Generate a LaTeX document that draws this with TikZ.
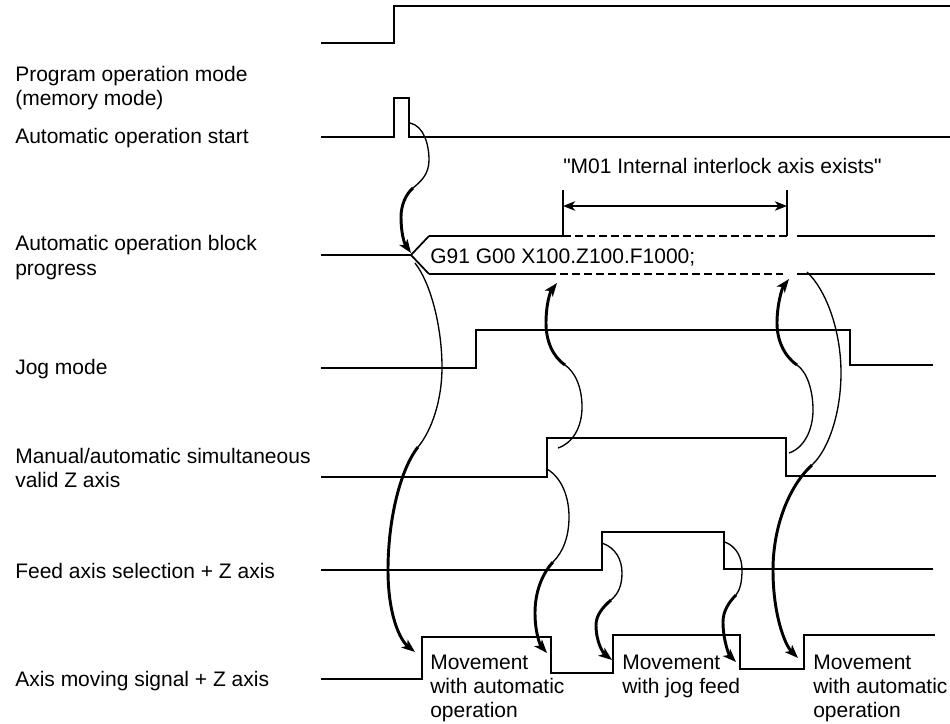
\documentclass[tikz,border=0pt]{standalone}
\usepackage{fontspec}
\newfontfamily\lsans{Liberation Sans}
\usetikzlibrary{arrows.meta}
\begin{document}
\begin{tikzpicture}[x=0.75pt,y=-0.75pt,
  lbl/.style={inner sep=0pt,anchor=base west,font=\lsans\fontsize{15.75pt}{18pt}\selectfont},
  sig/.style={line width=1.3pt,line join=miter},
  dsh/.style={line width=1.8pt,dash pattern=on 6pt off 3pt},
  thin/.style={line width=1pt},
  thick/.style={line width=2.2pt,-{Stealth[length=10pt,width=7.5pt,inset=2.5pt]}},
  dbl/.style={line width=2pt,{Stealth[length=9pt,width=7pt,inset=2.5pt]}-{Stealth[length=9pt,width=7pt,inset=2.5pt]}}]
\useasboundingbox (0,0) rectangle (950,724);

% left labels
\node[lbl] (l1a) at (15,82) {Program operation mode};
\node[lbl] (l1b) at (15,106) {(memory mode)};
\node[lbl] (l2) at (15,143) {Automatic operation start};
\node[lbl] (l3a) at (15,250) {Automatic operation block};
\node[lbl] (l3b) at (15,275) {progress};
\node[lbl] (l4) at (15,374) {Jog mode};
\node[lbl] (l5a) at (15,463) {Manual/automatic simultaneous};
\node[lbl] (l5b) at (15,487) {valid Z axis};
\node[lbl] (l6) at (15,578) {Feed axis selection + Z axis};
\node[lbl] (l7) at (15,686) {Axis moving signal + Z axis};

% signals
\draw[sig] (321,43) -- (394,43) -- (394,6) -- (950,6);
\draw[sig] (321,137) -- (394,137) -- (394,98) -- (409,98) -- (409,137) -- (950,137);
\draw[sig] (321,255) -- (411,255);
\draw[sig] (429,236) -- (411,255) -- (429,274);
\draw[sig] (429,236) -- (563,236);
\draw[sig] (429,274) -- (548,274);
\draw[dsh] (563,236) -- (787,236);
\draw[dsh] (548,274) -- (783,274);
\draw[sig] (797,236) -- (935,236);
\draw[sig] (797,274) -- (935,274);
\node[lbl] (blk) at (430,263) {G91 G00 X100.Z100.F1000;};

\draw[sig] (563,190) -- (563,236);
\draw[sig] (787,190) -- (787,236);
\coordinate (m1) at (563,206);
\coordinate (m2) at (787,206);
\draw[dbl] (m1) -- (m2);
\node[lbl] (m01) at (563,173) {"M01 Internal interlock axis exists"};

\draw[sig] (321,368) -- (476,368) -- (476,330) -- (850,330) -- (850,365) -- (933,365);
\draw[sig] (321,477) -- (547,477) -- (547,438) -- (786,438) -- (786,476) -- (936,476);
\draw[sig] (321,570) -- (602,570) -- (602,532) -- (724,532) -- (724,569) -- (933,569);
\draw[sig] (321,679) -- (422,679) -- (422,637) -- (551,637) -- (551,673) -- (613,673)
  -- (613,635) -- (740,635) -- (740,669) -- (804,669) -- (804,635) -- (935,635);

% bottom labels
\node[lbl] (ba1) at (430,669) {Movement};
\node[lbl] (ba2) at (430,693) {with automatic};
\node[lbl] (ba3) at (430,717) {operation};
\node[lbl] (bb1) at (622,669) {Movement};
\node[lbl] (bb2) at (622,693) {with jog feed};
\node[lbl] (bc1) at (813,669) {Movement};
\node[lbl] (bc2) at (813,693) {with automatic};
\node[lbl] (bc3) at (813,717) {operation};

% curve A
\coordinate (aS) at (410,123); \coordinate (aB) at (429,160); \coordinate (aT) at (413,188);
\coordinate (aC) at (401,217); \coordinate (aE) at (411,253);
\draw[thin] (aS) .. controls (424,126) and (429,145) .. (aB) .. controls (429,175) and (420,182) .. (aT);
\draw[thick] (aT) .. controls (406,194) and (401,205) .. (aC) .. controls (401,232) and (404,243) .. (aE);
% curve B
\coordinate (bS) at (415,263); \coordinate (bB) at (442,367); \coordinate (bT) at (418,447);
\coordinate (bC) at (388,570); \coordinate (bE) at (415,652);
\draw[thin] (bS) .. controls (432,285) and (442,330) .. (bB) .. controls (442,400) and (432,430) .. (bT);
\draw[thick] (bT) .. controls (400,470) and (388,520) .. (bC) .. controls (388,615) and (400,640) .. (bE);
% curve C
\coordinate (cS) at (547,469); \coordinate (cB) at (569,517); \coordinate (cT) at (553,562);
\coordinate (cC) at (535,613); \coordinate (cE) at (547,653);
\draw[thin] (cS) .. controls (562,478) and (569,497) .. (cB) .. controls (569,537) and (563,552) .. (cT);
\draw[thick] (cT) .. controls (542,574) and (535,592) .. (cC) .. controls (535,632) and (540,645) .. (cE);
% curve D
\coordinate (dS) at (558,448); \coordinate (dB) at (582,407); \coordinate (dT) at (565,365);
\coordinate (dC) at (546,323); \coordinate (dE) at (557,283);
\draw[thin] (dS) .. controls (573,443) and (582,427) .. (dB) .. controls (582,387) and (575,372) .. (dT);
\draw[thick] (dT) .. controls (552,356) and (546,340) .. (dC) .. controls (546,305) and (550,292) .. (dE);
% curve E
\coordinate (eS) at (789,453); \coordinate (eB) at (813,410); \coordinate (eT) at (797,365);
\coordinate (eC) at (777,323); \coordinate (eE) at (789,279);
\draw[thin] (eS) .. controls (804,448) and (813,430) .. (eB) .. controls (813,390) and (807,372) .. (eT);
\draw[thick] (eT) .. controls (784,356) and (777,340) .. (eC) .. controls (777,305) and (782,288) .. (eE);
% curve F
\coordinate (fS) at (807,272); \coordinate (fB) at (841,373); \coordinate (fT) at (812,465);
\coordinate (fC) at (773,570); \coordinate (fE) at (798,658);
\draw[thin] (fS) .. controls (826,290) and (841,330) .. (fB) .. controls (841,410) and (830,448) .. (fT);
\draw[thick] (fT) .. controls (790,485) and (773,525) .. (fC) .. controls (773,615) and (785,645) .. (fE);
% curve G
\coordinate (gS) at (602,543); \coordinate (gB) at (622,573); \coordinate (gT) at (611,600);
\coordinate (gC) at (596,625); \coordinate (gE) at (612,660);
\draw[thin] (gS) .. controls (616,548) and (622,560) .. (gB) .. controls (622,586) and (618,594) .. (gT);
\draw[thick] (gT) .. controls (603,607) and (596,615) .. (gC) .. controls (596,642) and (603,653) .. (gE);
% curve H
\coordinate (hS) at (725,542); \coordinate (hB) at (742,570); \coordinate (hT) at (736,595);
\coordinate (hC) at (723,622); \coordinate (hE) at (736,662);
\draw[thin] (hS) .. controls (737,547) and (742,558) .. (hB) .. controls (742,582) and (740,590) .. (hT);
\draw[thick] (hT) .. controls (729,602) and (723,611) .. (hC) .. controls (723,640) and (729,655) .. (hE);
\end{tikzpicture}
\end{document}
